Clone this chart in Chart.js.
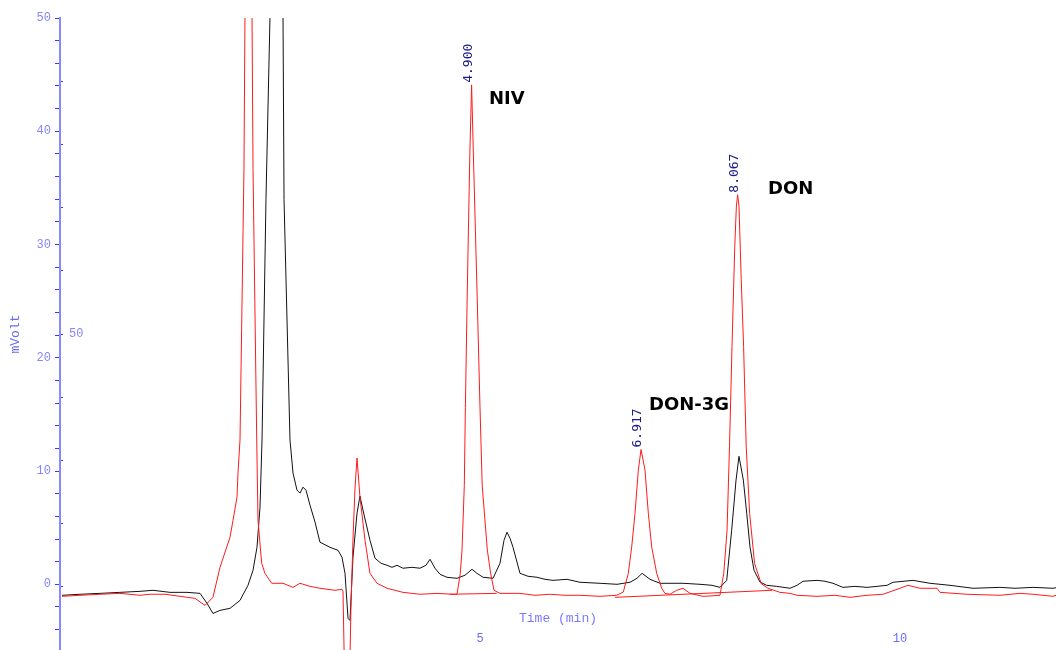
<!DOCTYPE html>
<html>
<head>
<meta charset="utf-8">
<script src="https://cdn.jsdelivr.net/npm/chart.js@4.4.1/dist/chart.umd.min.js"></script>
<style>
  html, body { margin: 0; padding: 0; background: #fff; overflow: hidden; }
  #wrap { width: 1056px; height: 650px; }
</style>
</head>
<body>
<div id="wrap"><canvas id="myChart" width="1056" height="650"></canvas></div>
<script>
// red trace (min, mV)
const redTime = [0.024, 0.238, 0.476, 0.714, 0.952, 1.071, 1.25, 1.429, 1.607, 1.726, 1.821, 1.905, 2.024, 2.060, 2.107, 2.119, 2.143, 2.190, 2.202, 2.244, 2.286, 2.298, 2.342, 2.357, 2.401, 2.440, 2.520, 2.655, 2.774, 2.857, 2.976, 3.095, 3.274, 3.357, 3.369, 3.417, 3.464, 3.488, 3.512, 3.536, 3.571, 3.631, 3.690, 3.774, 3.893, 4.083, 4.286, 4.488, 4.679, 4.726, 4.765, 4.786, 4.813, 4.826, 4.847, 4.879, 4.900, 4.921, 4.967, 5.000, 5.026, 5.087, 5.127, 5.167, 5.238, 5.476, 5.655, 5.833, 6.012, 6.190, 6.429, 6.627, 6.706, 6.765, 6.806, 6.845, 6.885, 6.917, 6.964, 7.004, 7.044, 7.104, 7.163, 7.202, 7.262, 7.342, 7.417, 7.500, 7.655, 7.762, 7.857, 7.902, 7.941, 7.970, 8.000, 8.033, 8.052, 8.067, 8.083, 8.110, 8.138, 8.169, 8.210, 8.269, 8.348, 8.428, 8.571, 8.690, 8.774, 9.012, 9.226, 9.405, 9.607, 9.798, 10.000, 10.095, 10.238, 10.440, 10.476, 10.798, 11.190, 11.429, 11.583, 11.821, 11.857];
const redValue = [-1.06, -0.97, -0.88, -0.80, -0.97, -0.88, -0.88, -1.06, -1.24, -1.86, -1.15, 1.50, 4.16, 5.66, 7.70, 9.82, 12.74, 36.6, 50.1, 95, 50.1, 36.6, 12.74, 5.66, 1.86, 0.97, 0.09, 0.09, -0.27, 0.09, -0.18, -0.35, -0.53, -0.44, -0.6, -20, -2, 4, 8.5, 11.15, 7.7, 3.89, 0.97, 0.09, -0.35, -0.71, -0.88, -0.80, -0.88, -0.88, 0.94, 3.04, 8.72, 15.6, 25.2, 38.0, 44.1, 38.0, 25.2, 15.6, 8.72, 3.04, 0.94, -0.53, -0.80, -0.80, -0.97, -0.88, -0.97, -0.97, -1.06, -0.97, -0.68, 0.95, 3.30, 6.26, 10.1, 11.9, 10.1, 6.26, 3.30, 0.95, -0.35, -0.80, -0.88, -0.53, -0.35, -0.80, -1.06, -1.02, -0.97, 0.97, 4.78, 12.15, 21.0, 29.85, 33.4, 34.4, 33.4, 26.9, 21.0, 12.15, 6.26, 1.83, 0.06, -0.35, -0.71, -0.80, -0.97, -1.06, -0.97, -1.15, -0.97, -0.88, -0.35, -0.09, -0.35, -0.35, -0.71, -0.88, -0.97, -0.80, -0.88, -1.06, -0.97];

// black trace (min, mV)
const blackTime = [0.024, 0.238, 0.476, 0.714, 0.952, 1.107, 1.310, 1.512, 1.667, 1.750, 1.821, 1.905, 2.024, 2.143, 2.238, 2.298, 2.345, 2.381, 2.405, 2.452, 2.500, 2.577, 2.655, 2.667, 2.738, 2.774, 2.821, 2.857, 2.893, 2.929, 2.976, 3.036, 3.095, 3.214, 3.310, 3.357, 3.393, 3.429, 3.452, 3.488, 3.536, 3.571, 3.607, 3.690, 3.750, 3.821, 3.893, 3.952, 4.012, 4.083, 4.190, 4.286, 4.357, 4.405, 4.464, 4.524, 4.607, 4.726, 4.821, 4.905, 4.964, 5.036, 5.155, 5.238, 5.286, 5.321, 5.357, 5.393, 5.476, 5.571, 5.679, 5.774, 5.869, 6.036, 6.190, 6.429, 6.631, 6.786, 6.869, 6.929, 7.024, 7.143, 7.286, 7.417, 7.619, 7.762, 7.857, 7.937, 7.996, 8.048, 8.083, 8.135, 8.175, 8.214, 8.262, 8.333, 8.413, 8.532, 8.690, 8.774, 8.845, 9.012, 9.107, 9.202, 9.321, 9.464, 9.607, 9.845, 9.917, 10.155, 10.357, 10.595, 10.869, 11.190, 11.369, 11.583, 11.821, 11.857];
const blackValue = [-0.97, -0.88, -0.80, -0.71, -0.62, -0.53, -0.71, -0.71, -0.80, -1.68, -2.57, -2.30, -2.12, -1.42, -0.09, 1.24, 3.27, 6.81, 12.74, 34.0, 50.1, 110, 50.1, 34.0, 12.74, 9.82, 8.32, 8.05, 8.58, 8.3, 6.99, 5.49, 3.72, 3.27, 3.0, 2.39, 0.97, -3.01, -3.19, 2.39, 6.28, 7.79, 6.55, 3.89, 2.30, 1.86, 1.68, 1.50, 1.68, 1.42, 1.50, 1.42, 1.68, 2.21, 1.42, 0.88, 0.62, 0.53, 0.80, 1.33, 0.97, 0.62, 0.53, 1.86, 3.89, 4.60, 4.07, 3.27, 0.97, 0.71, 0.62, 0.44, 0.35, 0.44, 0.18, 0.09, 0.0, 0.18, 0.53, 0.97, 0.44, 0.09, 0.09, 0.09, 0.0, -0.09, -0.27, 0.35, 4.78, 9.20, 11.3, 9.20, 6.28, 3.30, 1.24, 0.20, -0.09, -0.18, -0.35, -0.09, 0.27, 0.35, 0.27, 0.09, -0.27, -0.18, -0.27, -0.09, 0.18, 0.35, 0.09, -0.09, -0.35, -0.27, -0.35, -0.27, -0.35, -0.30];

// integration baselines
const baseTime = [4.640, 5.199, 5.5, 6.607, 8.476];
const baseValue = [-0.88, -0.80, null, -1.15, -0.53];

const peakTimes = [4.900, 6.917, 8.067];
const peakLabels = ['4.900', '6.917', '8.067'];
const compoundNames = ['NIV', 'DON-3G', 'DON'];
const compoundTime = [5.107, 7.012, 8.429];
const compoundLevel = [42.8, 15.8, 34.9];

const xTicks = [5, 10];
const yTicks = [0, 10, 20, 30, 40, 50];

const toPoints = (ts, vs) => ts.map((t, i) => ({x: t, y: vs[i]}));

const peakText = {
    id: 'peakText',
    afterDatasetsDraw(chart) {
        const {ctx, scales: {x, y}} = chart;
        ctx.save();
        ctx.fillStyle = '#1c1c8a';
        ctx.font = '13px "DejaVu Sans Mono"';
        ctx.textAlign = 'left';
        ctx.textBaseline = 'middle';
        peakTimes.forEach((t, i) => {
            const v = redValue[redTime.indexOf(t)];
            ctx.save();
            ctx.translate(x.getPixelForValue(t) - 3, y.getPixelForValue(v) - 2);
            ctx.rotate(-Math.PI / 2);
            ctx.fillText(peakLabels[i], 0, 0);
            ctx.restore();
        });
        ctx.fillStyle = '#000';
        ctx.font = 'bold 18px "DejaVu Sans"';
        compoundNames.forEach((name, i) => {
            ctx.fillText(name, x.getPixelForValue(compoundTime[i]), y.getPixelForValue(compoundLevel[i]));
        });
        ctx.restore();
    }
};

const noPad = s => { s.paddingTop = 0; s.paddingBottom = 0; s.paddingLeft = 0; s.paddingRight = 0; };

document.addEventListener("DOMContentLoaded", function() {
    const ctx = document.getElementById('myChart').getContext('2d');

    new Chart(ctx, {
        type: 'line',
        data: {
            datasets: [{
                data: toPoints(redTime, redValue),
                borderColor: '#ff1a1a',
                borderWidth: 1,
                pointRadius: 0,
                yAxisID: 'y'
            }, {
                data: toPoints(blackTime, blackValue),
                borderColor: '#111111',
                borderWidth: 1,
                pointRadius: 0,
                yAxisID: 'y'
            }, {
                data: toPoints(baseTime, baseValue),
                borderColor: '#ff1a1a',
                borderWidth: 1,
                pointRadius: 0,
                spanGaps: false,
                yAxisID: 'y'
            }]
        },
        options: {
            responsive: false,
            animation: false,
            layout: { padding: { top: 18, right: 0, bottom: 0, left: 0 } },
            plugins: { legend: { display: false }, tooltip: { enabled: false } },
            scales: {
                x: {
                    type: 'linear',
                    min: 0,
                    max: 11.857,
                    afterBuildTicks: s => { s.ticks = xTicks.map(v => ({value: v})); },
                    afterFit: s => { s.height = 0; noPad(s); },
                    grid: { display: false },
                    border: { display: false },
                    ticks: {
                        mirror: true,
                        padding: 4,
                        maxRotation: 0,
                        autoSkip: false,
                        color: '#6a6aff',
                        font: { family: 'Liberation Mono', size: 12 }
                    },
                    title: {
                        display: true,
                        text: 'Time (min)',
                        color: '#7a7aff',
                        font: { family: 'Liberation Mono', size: 13 },
                        padding: { top: 0, bottom: 24 }
                    }
                },
                y: {
                    position: 'left',
                    weight: 2,
                    min: -5.8,
                    max: 50,
                    afterBuildTicks: s => {
                        const t = [];
                        for (let v = -4; v <= 50; v += 2) t.push({value: v});
                        s.ticks = t;
                    },
                    afterFit: s => { s.width = 60; noPad(s); },
                    grid: { drawOnChartArea: false, drawTicks: true, tickLength: 5, color: '#3a3aff' },
                    border: { color: '#8888ff', width: 2 },
                    ticks: {
                        padding: 4,
                        autoSkip: false,
                        color: '#8585ff',
                        font: { family: 'Liberation Mono', size: 12 },
                        callback: v => yTicks.includes(v) ? String(v) : ''
                    },
                    title: {
                        display: true,
                        text: 'mVolt',
                        color: '#6c6cee',
                        font: { family: 'Liberation Mono', size: 13 },
                        padding: { top: 8, bottom: 0 }
                    }
                },
                y2: {
                    position: 'left',
                    weight: 0,
                    min: 0,
                    max: 100,
                    afterBuildTicks: s => {
                        const t = [];
                        for (let v = 10; v <= 90; v += 10) t.push({value: v});
                        s.ticks = t;
                    },
                    afterFit: s => { s.width = 0; noPad(s); },
                    grid: { drawOnChartArea: false, drawTicks: true, tickLength: -3, color: '#3a3aff' },
                    border: { display: false },
                    ticks: {
                        mirror: true,
                        padding: 9,
                        autoSkip: false,
                        color: '#8585ff',
                        font: { family: 'Liberation Mono', size: 12 },
                        callback: v => v === 50 ? '50' : ''
                    }
                }
            }
        },
        plugins: [peakText]
    });
});
</script>
</body>
</html>
